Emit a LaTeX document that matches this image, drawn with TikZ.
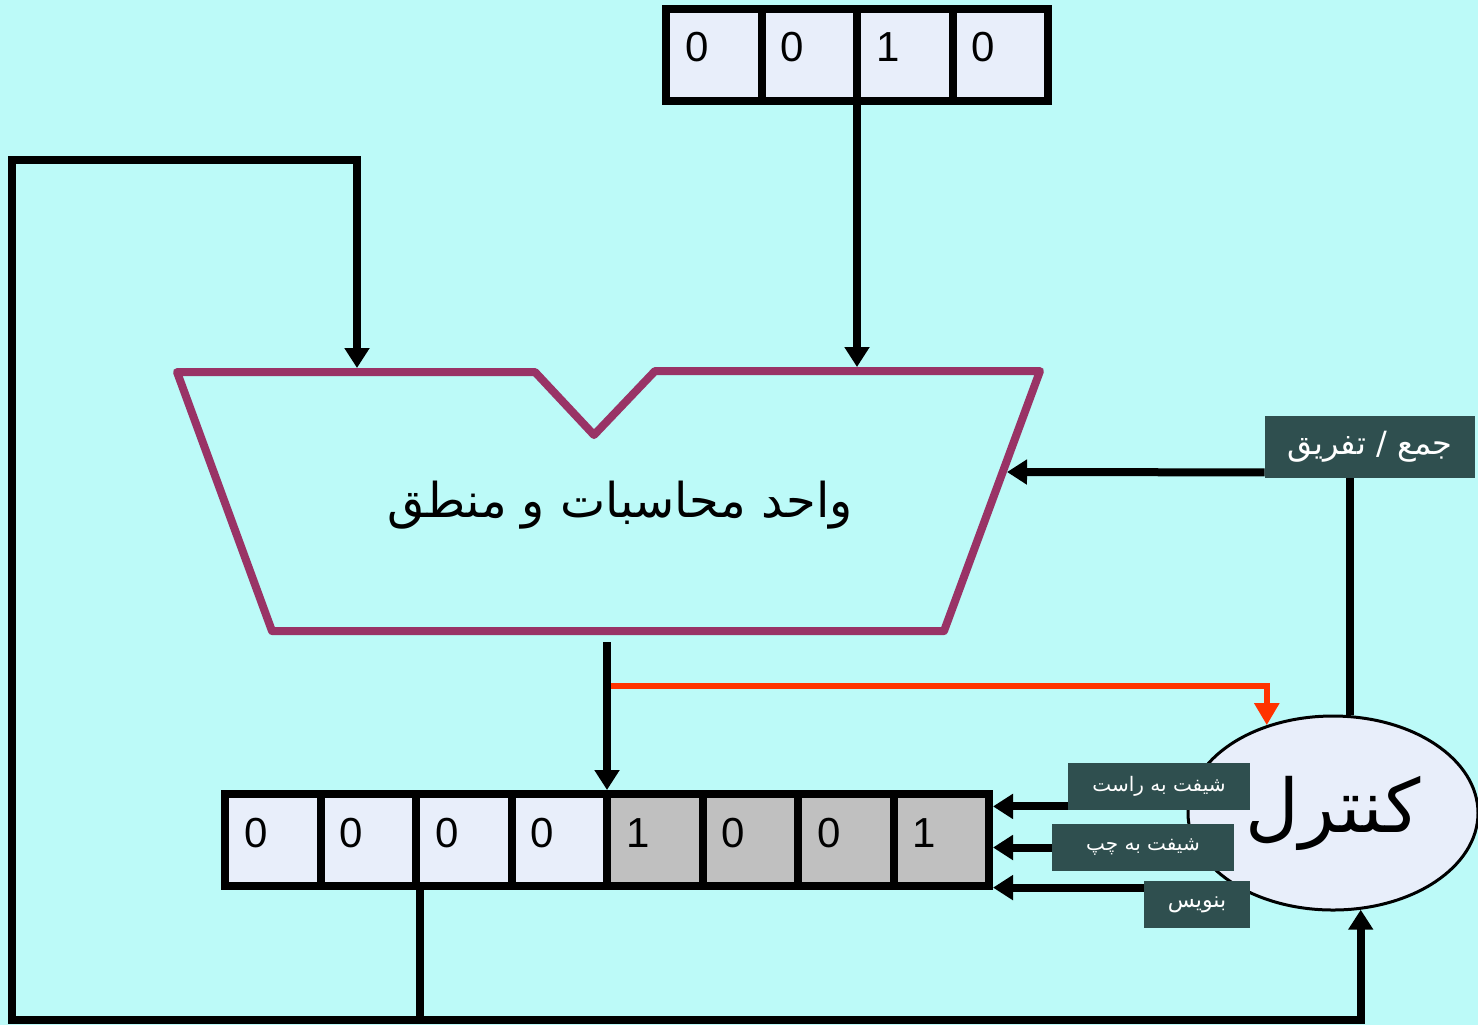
\documentclass[tikz,border=0pt]{standalone}
\usepackage{fontspec}
\setmainfont{Liberation Sans}
\newfontfamily\farsi[Script=Arabic]{DejaVu Sans}
\TeXXeTstate=1
\newcommand{\fa}[1]{{\farsi\beginR #1\endR}}
\usepackage{tikz}
\usetikzlibrary{arrows.meta,positioning,shapes.geometric}
\definecolor{bgcyan}{RGB}{188,250,248}
\definecolor{lav}{RGB}{232,238,250}
\definecolor{cellgray}{RGB}{192,192,192}
\definecolor{alupurple}{RGB}{153,51,102}
\definecolor{slate}{RGB}{47,79,79}
\definecolor{flag}{RGB}{255,51,0}
\tikzset{
  %Define standard arrow tip
  >={Triangle[length=10pt,width=12pt]},
  %Define style for register cells
  bit/.style={
    rectangle,
    draw=black, line width=4pt,
    minimum width=47.75pt,
    minimum height=46pt,
    inner sep=0pt},
  digit/.style={font=\fontsize{21}{21}\selectfont, inner sep=0pt},
  % Define style for signal boxes
  sig/.style={
    rectangle,
    fill=slate,
    text=white,
    minimum height=23.5pt,
    inner sep=0pt,
    font=\fontsize{10}{12}\selectfont},
  % Define wire styles
  wire/.style={line width=4pt},
  pil/.style={->, line width=4pt},
  flagpil/.style={-{Triangle[length=11pt,width=12pt]}, draw=flag, line width=3pt}
}

\begin{document}
\begin{tikzpicture}[x=0.5pt,y=-0.5pt]
\fill[bgcyan] (0,0) rectangle (1478,1025);
\useasboundingbox (0,0) rectangle (1478,1025);

% input register
\foreach \d [count=\i] in {0,0,1,0}{
  \node[bit, fill=lav] (t\i) at ({713.75+95.5*(\i-1)},54.5) {};
  \node[digit] at ([xshift=-8.5pt,yshift=3.5pt]t\i.center) {\d};
}

% result register
\foreach \d/\c [count=\i] in {0/lav,0/lav,0/lav,0/lav,1/cellgray,0/cellgray,0/cellgray,1/cellgray}{
  \node[bit, fill=\c] (b\i) at ({272.75+95.5*(\i-1)},840) {};
  \node[digit] at ([xshift=-8.5pt,yshift=3.5pt]b\i.center) {\d};
}

% ALU
\draw[alupurple, line width=4pt, line join=round]
  (177,372) -- (535,372) -- (594,435) -- (655,371) -- (1040,371) -- (944,631) -- (272,631) -- cycle;
\node[font=\fontsize{24}{28}\selectfont] (alu) at (620,505) {\fa{واحد محاسبات و منطق}};
\coordinate (aluA) at (357,368);
\coordinate (aluB) at (857,367);
\coordinate (aluR) at (1007,472);
\coordinate (aluOut) at (607,642);
\coordinate (tap) at (611,686);
\coordinate (floor) at (0,1020);

% control unit
\node[ellipse, draw=black, line width=1.5pt, fill=lav, minimum width=145pt,
  minimum height=97pt, inner sep=0pt, font=\fontsize{37}{40}\selectfont]
  (ctrl) at (1333,813) {\fa{کنترل}};
\node[sig, minimum width=105pt, minimum height=31pt, font=\fontsize{16}{18}\selectfont]
  (addsub) at (1370,447) {\fa{جمع / تفریق}};
\node[sig, minimum width=91pt] (shr) at (1159,786.5) {\fa{شیفت به راست}};
\node[sig, minimum width=91pt] (shl) at (1143,847.5) {\fa{شیفت به چپ}};
\node[sig, minimum width=53pt, font=\fontsize{11}{13}\selectfont] (wr) at (1197,904.5) {\fa{بنویس}};
\coordinate (shrIn) at ([yshift=2pt]shr.south west);
\coordinate (wrIn) at ([yshift=-3.5pt]wr.north west);
\coordinate (asIn) at ([yshift=3pt]addsub.south west);
\coordinate (asOut) at ([xshift=-10pt]addsub.south);

% connectors
\draw[pil] (aluB |- t2.south) -- (aluB);
\draw[pil] (b2.south east) |- (12,1020) |- (357,160) -- (aluA);
\draw[pil] (b2.south east |- floor) -| (ctrl.-74);
\draw[pil] (aluOut) -- (aluOut |- b4.north);
\draw[flagpil] (tap) -| (ctrl.127);
\draw[wire] (asOut) -- (asOut |- ctrl.north);
\draw[pil] (asIn) -- (aluR);
\draw[pil] (shrIn) -- (shrIn -| b8.east);
\draw[pil] (shl.west) -- (shl.west -| b8.east);
\draw[pil] (wrIn) -- (wrIn -| b8.east);
\end{tikzpicture}
\end{document}
